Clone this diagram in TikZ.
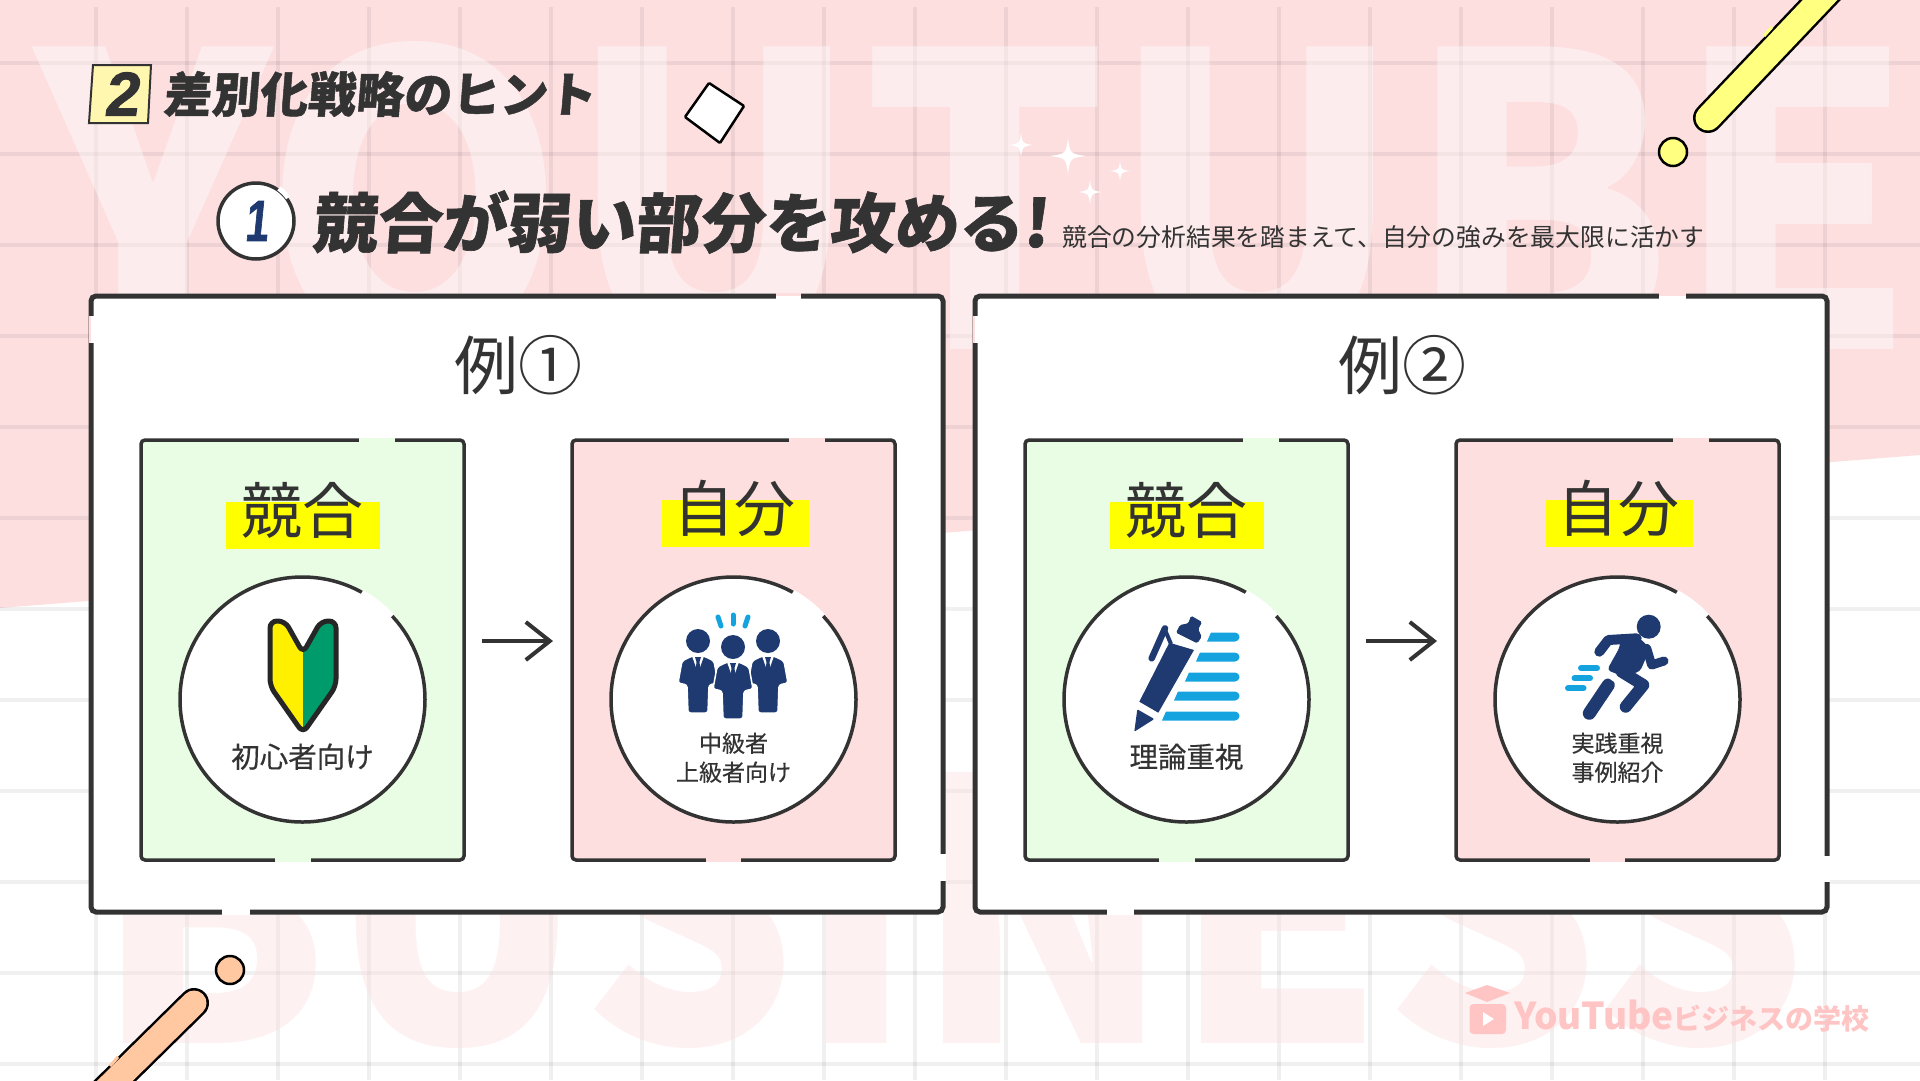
\documentclass[tikz,border=0pt]{standalone}
\usepackage{fontspec}
\setmainfont{Noto Sans CJK JP}
\newfontfamily\headfont[FakeSlant=0.08,FakeBold=1]{Noto Sans CJK JP}
\newfontfamily\labelfont[FakeBold=0.4]{Noto Sans CJK JP}
\newfontfamily\tagfont[FakeSlant=0.14,FakeBold=1.5]{Liberation Sans}
\usetikzlibrary{positioning, arrows.meta}

\definecolor{ink}{HTML}{333333}
\definecolor{bgpink}{HTML}{FDDFE0}
\definecolor{rivalgreen}{HTML}{E8FDE4}
\definecolor{navy}{HTML}{1F3A70}
\definecolor{skyblue}{HTML}{15A3E0}
\definecolor{logopink}{HTML}{FFC4C4}
\definecolor{hlyellow}{HTML}{FFFF00}
\definecolor{tagyellow}{HTML}{FFF6B0}
\definecolor{wakayellow}{HTML}{FFF000}
\definecolor{wakagreen}{HTML}{009B6B}
\definecolor{stickyellow}{HTML}{FFFF80}
\definecolor{stickpeach}{HTML}{FFC8A0}
\newcommand{\fpx}[1]{\fontsize{#1}{#1}\selectfont}

\begin{document}
\begin{tikzpicture}[
    x=1pt, y=-1pt,
    % box styles
    outerbox/.style={rectangle, draw=ink, fill=white, line width=5pt, rounded corners=5pt, outer sep=0pt, minimum width=852pt, minimum height=616pt},
    rivalbox/.style={rectangle, draw=ink, fill=rivalgreen, line width=3.5pt, rounded corners=4pt, outer sep=0pt, minimum width=323pt, minimum height=420pt},
    selfbox/.style={rivalbox, fill=bgpink},
    ring/.style={circle, draw=ink, fill=white, line width=3.5pt, outer sep=0pt, minimum size=245pt},
    hlbar/.style={rectangle, fill=hlyellow, outer sep=0pt, inner sep=0pt, minimum height=47pt},
    % text styles
    bigtitle/.style={text=ink, font=\fpx{64}},
    headword/.style={text=ink, font=\fpx{61}},
    iconlabel/.style={text=ink, font=\labelfont\fontsize{23}{29}\selectfont, align=center, inner sep=0pt},
    iconlabelbig/.style={text=ink, font=\labelfont\fpx{28.5}, inner sep=0pt},
    % lines
    gapline/.style={line width=3pt},
    flowarrow/.style={draw=ink, line width=4pt, -{Straight Barb[length=24pt, width=38pt]}, shorten <=18pt, shorten >=19pt},
    stick/.style={draw=black, line width=2.5pt, line cap=round, double distance=25pt},
    bluedash/.style={draw=skyblue, line width=5pt, line cap=round},
    suitman/.pic={
        \fill[navy] (0,0) circle[radius=12];
        \path[fill=navy, draw=white, line width=1.5pt, rounded corners=2.5pt] (-6,15) -- (-16,20) -- (-20,42) -- (-11,44) -- (-10,72) -- (10,72) -- (11,44) -- (20,42) -- (16,20) -- (6,15) -- cycle;
        \fill[white] (-6,15) -- (6,15) -- (0,32) -- cycle;
        \fill[navy] (-3,16) -- (3,16) -- (1.5,21) -- (2.5,30) -- (0,33) -- (-2.5,30) -- (-1.5,21) -- cycle;
    }
]
\useasboundingbox (0,0) rectangle (1920,1080);

% ====================
% background
% ====================
\fill[white] (0,0) rectangle (1920,1080);
\fill[bgpink] (0,0) -- (1920,0) -- (1920,455) -- (0,608) -- cycle;

% grid
\foreach \gx in {0,...,19}
    \draw[black, opacity=0.06, line width=3.5pt] ({96+91*\gx},7) -- ({96+91*\gx},1080);
\foreach \gy in {0,...,11}
    \draw[black, opacity=0.06, line width=3.5pt] (0,{63+91*\gy}) -- (1920,{63+91*\gy});

% watermark
\node[anchor=base, inner sep=0pt, text=white, text opacity=0.42, font=\bfseries\fpx{387}, yscale=1.05, transform shape] (markTop) at (976,349) {YOUTUBE};
\node[anchor=base, inner sep=0pt, text=bgpink, text opacity=0.42, font=\bfseries\fpx{337}, yscale=1.08, transform shape] (markBottom) at (951,1043) {BUSINESS};

% ====================
% decorations
% ====================
\draw[stick, double=stickyellow] (1708,118) -- (1860,-42);
\draw[stickyellow, line width=3pt] (1764,36) -- (1772,27);
\draw[black, fill=stickyellow, line width=2.5pt] (1673,152) circle[radius=14];
\draw[stick, double=stickpeach] (194,1003) -- (70,1125);
\draw[stickpeach, line width=3pt] (118,1057) -- (110,1066);
\draw[black, fill=stickpeach, line width=2.5pt] (230,970) circle[radius=14];

\draw[black, fill=white, line width=2.5pt, rounded corners=1pt] (709,83) -- (744,106) -- (720,143) -- (685,117) -- cycle;

\foreach \sx/\sy/\sr in {1021/145/12, 1068/156/18, 1120/171/10, 1090/192/12}
    \fill[white] (\sx,\sy-\sr) .. controls ({\sx+0.12*\sr},{\sy-0.12*\sr}) .. (\sx+\sr,\sy)
        .. controls ({\sx+0.12*\sr},{\sy+0.12*\sr}) .. (\sx,\sy+\sr)
        .. controls ({\sx-0.12*\sr},{\sy+0.12*\sr}) .. (\sx-\sr,\sy)
        .. controls ({\sx-0.12*\sr},{\sy-0.12*\sr}) .. (\sx,\sy-\sr) -- cycle;

% ====================
% header
% ====================
\draw[ink, fill=tagyellow, line width=2pt] (93,65) -- (151,65) -- (148,123) -- (89,123) -- cycle;
\node[text=ink, font=\tagfont\bfseries\fpx{62}, inner sep=0pt] (tagNum) at (121,94) {2};
\node[right=13pt of tagNum.center, anchor=west, text=ink, font=\headfont\bfseries\fpx{48}, inner sep=0pt, xshift=29pt] (subject) {差別化戦略のヒント};

\node[circle, draw=ink, fill=white, line width=3.5pt, minimum size=76pt, inner sep=0pt] (numRing) at (256,221) {};
\draw[white, line width=5pt] (numRing.55) arc[start angle=-55, end angle=-35, radius=38];
\node[text=navy, font=\tagfont\bfseries\fpx{58}, inner sep=0pt, xscale=0.72, transform shape] (numOne) at (256,221) {1};
\node[text=ink, font=\headfont\bfseries\fpx{64.6}, inner sep=0pt, anchor=west] (mainTitle) at (312,222) {競合が弱い部分を攻める!};
\node[text=ink, font=\fpx{24.8}, inner sep=0pt, anchor=west] (subTitle) at (1062,237) {競合の分析結果を踏まえて、自分の強みを最大限に活かす};

% ====================
% (1) example one
% ====================
\node[outerbox] (outerA) at (517,604) {};
\draw[bgpink, gapline] (776,294.5) -- (801,294.5);
\draw[white, gapline] (776,297) -- (801,297);
\draw[white, line width=5.2pt] (222,912) -- (250,912);
\draw[bgpink, gapline] (90,316) -- (90,343);
\draw[white, gapline] (92.5,316) -- (92.5,343);
\draw[white, line width=5.2pt] (943,854) -- (943,881);
\node[bigtitle] (titleA) at (518,365) {例①};

\node[rivalbox] (rivalA) at (302.5,650) {};
\node[selfbox, right=108pt of rivalA] (selfA) {};
\draw[rivalgreen, line width=4.5pt] (359,440) -- (395,440);
\draw[rivalgreen, line width=4.5pt] (275,860) -- (311,860);
\draw[bgpink, line width=4.5pt] (789,440) -- (825,440);
\draw[bgpink, line width=4.5pt] (706,860) -- (741,860);

\node[hlbar, minimum width=154pt, above=311pt of rivalA.south] (hlRivalA) {};
\node[headword] (headRivalA) at ([yshift=15pt]hlRivalA.center) {競合};
\node[hlbar, minimum width=147pt, above=313pt of selfA.south, xshift=2pt] (hlSelfA) {};
\node[headword, xshift=-1pt] (headSelfA) at ([yshift=15pt]hlSelfA.center) {自分};

\node[ring, above=38pt of rivalA.south] (ringRivalA) {};
\node[ring, above=38pt of selfA.south] (ringSelfA) {};
\draw[white, line width=5pt] (ringRivalA.61) arc[start angle=-61, end angle=-43, radius=122.5];
\draw[white, line width=5pt] (ringSelfA.61) arc[start angle=-61, end angle=-43, radius=122.5];

\node[iconlabelbig, above=52pt of ringRivalA.south] (textRivalA) {初心者向け};
\node[iconlabel, above=39pt of ringSelfA.south] (textSelfA) {中級者\\上級者向け};

\draw[flowarrow] ([yshift=9pt]rivalA.east) -- ([yshift=9pt]selfA.west);

% ====================
% (2) example two
% ====================
\begin{scope}[xshift=884pt]
    \node[outerbox] (outerB) at (517,604) {};
    \draw[bgpink, gapline] (775,294.5) -- (802,294.5);
    \draw[white, gapline] (775,297) -- (802,297);
    \draw[white, line width=5.2pt] (223,912) -- (250,912);
    \draw[bgpink, gapline] (90,316) -- (90,343);
    \draw[white, gapline] (92.5,316) -- (92.5,343);
    \draw[white, line width=5.2pt] (943,856) -- (943,882);
    \node[bigtitle] (titleB) at (518,365) {例②};

    \node[rivalbox] (rivalB) at (302.5,650) {};
    \node[selfbox, right=108pt of rivalB] (selfB) {};
    \draw[rivalgreen, line width=4.5pt] (359,440) -- (395,440);
    \draw[rivalgreen, line width=4.5pt] (275,860) -- (311,860);
    \draw[bgpink, line width=4.5pt] (789,440) -- (825,440);
    \draw[bgpink, line width=4.5pt] (706,860) -- (741,860);

    \node[hlbar, minimum width=154pt, above=311pt of rivalB.south] (hlRivalB) {};
    \node[headword] (headRivalB) at ([yshift=15pt]hlRivalB.center) {競合};
    \node[hlbar, minimum width=147pt, above=313pt of selfB.south, xshift=2pt] (hlSelfB) {};
    \node[headword, xshift=-1pt] (headSelfB) at ([yshift=15pt]hlSelfB.center) {自分};

    \node[ring, above=38pt of rivalB.south] (ringRivalB) {};
    \node[ring, above=38pt of selfB.south] (ringSelfB) {};
    \draw[white, line width=5pt] (ringRivalB.61) arc[start angle=-61, end angle=-43, radius=122.5];
    \draw[white, line width=5pt] (ringSelfB.61) arc[start angle=-61, end angle=-43, radius=122.5];

    \node[iconlabelbig, above=52pt of ringRivalB.south] (textRivalB) {理論重視};
    \node[iconlabel, above=39pt of ringSelfB.south] (textSelfB) {実践重視\\事例紹介};

    \draw[flowarrow] ([yshift=9pt]rivalB.east) -- ([yshift=9pt]selfB.west);
\end{scope}

% ====================
% icons
% ====================
% wakaba mark
\begin{scope}
    \clip[rounded corners=7pt] (303,653) -- (285,621) -- (270,621) -- (270,686) -- (303,733) -- (336,686) -- (336,621) -- (321,621) -- cycle;
    \fill[wakayellow] (260,610) rectangle (303,740);
    \fill[wakagreen] (303,610) rectangle (345,740);
\end{scope}
\draw[black!85, line width=5pt, rounded corners=7pt] (303,653) -- (285,621) -- (270,621) -- (270,686) -- (303,733) -- (336,686) -- (336,621) -- (321,621) -- cycle;

% three people
\pic at (698,641) {suitman};
\pic at (768,641) {suitman};
\pic at (733,647) {suitman};
\draw[bluedash] (718,617) -- (721,626);
\draw[bluedash] (733,615) -- (733,624);
\draw[bluedash] (748,617) -- (745,626);

% pen and lines
\foreach \ly/\lx in {637/1207, 657/1196, 677/1185, 696/1174, 716/1162}
    \fill[skyblue] (\lx+4,\ly-4.5) -- (1235,\ly-4.5) arc[start angle=-90, end angle=90, radius=4.5] -- (\lx,\ly+4.5) -- cycle;
\fill[navy] (1169.3,642.7) -- (1194,650) -- (1158.3,712.7) -- (1139.3,701.7) -- cycle;
\fill[navy, rounded corners=1pt] (1137.3,709.3) -- (1154.3,719) -- (1134.3,731.7) -- cycle;
\fill[navy, rounded corners=1.5pt] (1176,632.7) -- (1180,625) -- (1188.3,623.3) -- (1191,615.7) -- (1202,622) -- (1198.3,629.3) -- (1201.7,636.7) -- (1197.3,643.3) -- cycle;
\draw[navy, line width=6.5pt, line cap=round] (1165,628.3) -- (1151.7,658.3);
\draw[navy, line width=4pt] (1165,630) -- (1171,644);

% runner
\fill[navy] (1648.7,626.7) circle[radius=12];
\draw[navy, line width=13pt, line cap=round] (1608.3,685) -- (1589.3,713.3);
\fill[navy, rounded corners=4pt] (1620,635) -- (1640,638.3) -- (1650,648.3) -- (1640,671.7) -- (1622,676) -- (1607,670) -- (1620,646.7) -- cycle;
\draw[navy, line width=10pt, line cap=round, line join=round] (1599.3,651.7) -- (1608.3,640) -- (1636.7,638.3);
\draw[navy, line width=12pt, line cap=round, line join=round] (1621.7,671.7) -- (1643.3,685) -- (1625.7,706.7);
\draw[navy, line width=9pt, line cap=round, line join=round] (1646.7,648.3) -- (1651.7,665) -- (1664,661);
\draw[white, line width=1.5pt] (1604,674) -- (1617,683);
\draw[skyblue, line width=6pt, line cap=round] (1581,668.3) -- (1597,668.3);
\draw[skyblue, line width=6pt, line cap=round] (1574.5,678.3) -- (1590,678.3);
\draw[skyblue, line width=6pt, line cap=round] (1568,688.3) -- (1583.5,688.3);

% ====================
% logo
% ====================
\fill[logopink] (1487,985) -- (1510,993) -- (1487,1002) -- (1465,993) -- cycle;
\fill[logopink, rounded corners=4pt] (1469.5,1004) rectangle (1506,1034);
\fill[white] (1483,1012) -- (1494,1019) -- (1483,1026) -- cycle;
\node[anchor=west, text=logopink, inner sep=0pt, font=\bfseries] (logoText) at (1514,1016) {\fpx{37}YouTube\fpx{28}ビジネスの学校};

\end{tikzpicture}
\end{document}
